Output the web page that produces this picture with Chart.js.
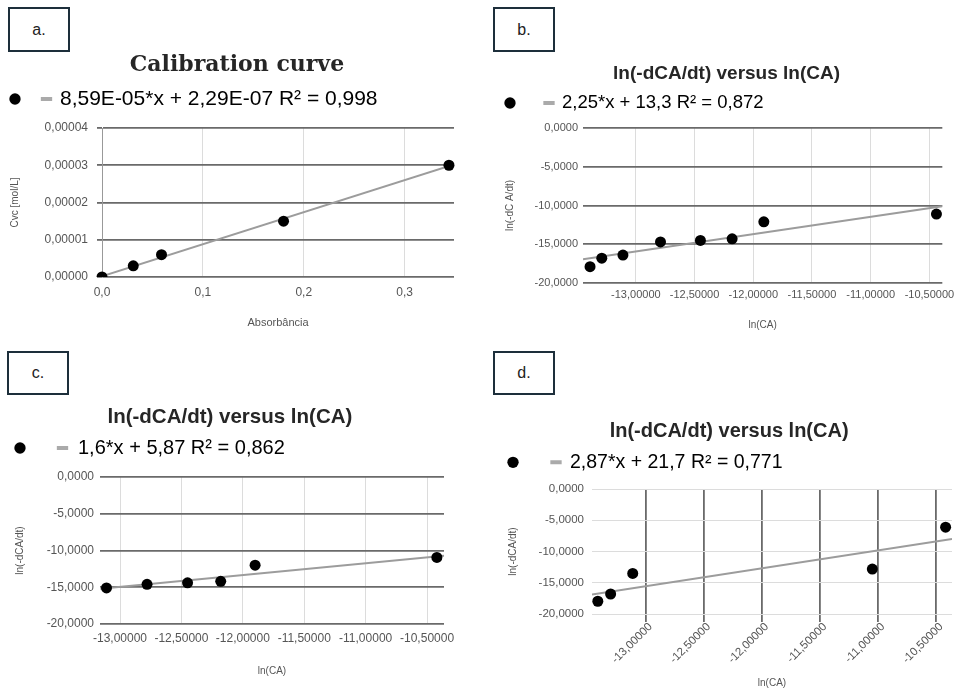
<!DOCTYPE html>
<html>
<head>
<meta charset="utf-8">
<script src="https://cdn.jsdelivr.net/npm/chart.js@4.4.1/dist/chart.umd.min.js"></script>
<style>
  body { margin: 0; background: #fff; width: 960px; height: 693px; position: relative; overflow: hidden; font-family: "Liberation Sans", Arial, sans-serif; }
  canvas { position: absolute; }
  .tag { position: absolute; box-sizing: border-box; border: 2px solid #1d2f3b; background: #fff; color: #222;
         font-size: 16px; display: flex; align-items: center; justify-content: center; z-index: 2; }
</style>
</head>
<body>
<div class="tag" style="left:8px;top:7px;width:62px;height:45px">a.</div>
<div class="tag" style="left:493px;top:7px;width:62px;height:45px">b.</div>
<div class="tag" style="left:7px;top:351px;width:62px;height:44px">c.</div>
<div class="tag" style="left:493px;top:351px;width:62px;height:44px">d.</div>

<canvas id="chartA" width="483" height="300" style="left:-3px;top:45px"></canvas>
<canvas id="chartB" width="480" height="300" style="left:480px;top:45px"></canvas>
<canvas id="chartC" width="487" height="298" style="left:-7px;top:395px"></canvas>
<canvas id="chartD" width="480" height="298" style="left:480px;top:395px"></canvas>

<script>
// a. calibration curve
const absorbancia = [0, 0.031, 0.059, 0.18, 0.344];
const cvc = [0, 0.000003, 0.000006, 0.000015, 0.00003];
const trendAx = [0, 0.349];
const trendAy = [0.0000002, 0.0000302];
const ticksAx = [0, 0.1, 0.2, 0.3];
const ticksAy = [0, 0.00001, 0.00002, 0.00003, 0.00004];
const eqA = '8,59E-05*x + 2,29E-07 R² = 0,998';

// b.
const lnCAb = [-13.39, -13.29, -13.11, -12.79, -12.45, -12.18, -11.91, -10.44];
const lnRateb = [-17.9, -16.8, -16.4, -14.7, -14.5, -14.3, -12.1, -11.1];
const trendBx = [-13.45, -10.39];
const trendBy = [-16.95, -10.1];
const eqB = '2,25*x + 13,3 R² = 0,872';

// c.
const lnCAc = [-13.11, -12.78, -12.45, -12.18, -11.9, -10.42];
const lnRatec = [-15.1, -14.6, -14.4, -14.2, -12.0, -10.95];
const trendCx = [-13.16, -10.36];
const trendCy = [-15.2, -10.7];
const eqC = '1,6*x + 5,87 R² = 0,862';

// d.
const lnCAd = [-13.41, -13.3, -13.11, -11.05, -10.42];
const lnRated = [-17.96, -16.8, -13.5, -12.8, -6.1];
const trendDx = [-13.46, -10.365];
const trendDy = [-16.9, -8.0];
const eqD = '2,87*x + 21,7 R² = 0,771';

const ticksLnX = [-13, -12.5, -12, -11.5, -11, -10.5];
const ticksLnY = [-20, -15, -10, -5, 0];
const lnTitle = 'ln(-dCA/dt) versus ln(CA)';

Chart.defaults.font.family = '"Liberation Sans", Arial, sans-serif';

const DARK = '#6a6a6a';
const LIGHT = '#dcdcdc';

function pairs(xs, ys) {
  return xs.map((x, i) => ({ x: x, y: ys[i] }));
}

function fmt(v, d) {
  return v.toFixed(d).replace('.', ',');
}

function makeChart(id, p) {
  return new Chart(document.getElementById(id), {
    type: 'scatter',
    data: {
      datasets: [
        {
          data: pairs(p.xs, p.ys), pointRadius: 5.5, pointHoverRadius: 5.5, backgroundColor: '#000', borderWidth: 0,
          clip: { left: false, top: false, right: false, bottom: 0 }
        },
        { data: pairs(p.tx, p.ty), showLine: true, pointRadius: 0, borderColor: '#9c9c9c', borderWidth: 2 }
      ]
    },
    options: {
      responsive: false,
      animation: false,
      devicePixelRatio: 1,
      layout: { padding: { left: p.pl, right: p.pr, top: 0, bottom: 0 } },
      plugins: {
        tooltip: { enabled: false },
        title: {
          display: true, text: p.title, color: '#262626', font: p.titleFont,
          padding: { top: p.tpt, bottom: p.tpb }
        },
        // empty block that only keeps a gap between the legend and the plot
        subtitle: { display: true, text: '', weight: 500, font: { size: 1, lineHeight: 1 }, padding: { top: p.gap, bottom: 0 } },
        legend: {
          align: 'start',
          labels: {
            usePointStyle: true, boxHeight: 8, boxWidth: p.bw, padding: p.lp,
            color: '#444', font: { size: p.lfs },
            generateLabels: () => [
              { text: '', pointStyle: 'circle', fillStyle: '#000', strokeStyle: '#000', lineWidth: 0, hidden: false, datasetIndex: 0 },
              { text: p.eq, pointStyle: 'line', fillStyle: '#aaa', strokeStyle: '#aaa', lineWidth: 4, hidden: false, datasetIndex: 1 }
            ]
          }
        }
      },
      scales: {
        x: {
          type: 'linear', min: p.xmin, max: p.xmax,
          afterBuildTicks: s => { s.ticks = p.xt.map(v => ({ value: v })); },
          afterFit: s => { s.height = p.xh; },
          grid: { color: p.vcol, lineWidth: p.vw, drawTicks: p.xtl > 0, tickLength: p.xtl },
          border: { display: false },
          ticks: {
            padding: p.xpad, color: '#555', font: { size: p.tfs }, labelOffset: p.xoff,
            minRotation: p.rot, maxRotation: p.rot, autoSkip: false,
            callback: v => fmt(v, p.xd)
          },
          title: { display: true, text: p.xlabel, color: '#555', font: { size: p.xtfs }, padding: { top: 0, bottom: p.xtpb } }
        },
        y: {
          type: 'linear', min: p.ymin, max: p.ymax,
          afterBuildTicks: s => { s.ticks = p.yt.map(v => ({ value: v })); },
          afterFit: s => { s.width = p.yw; },
          grid: { color: p.hcol, lineWidth: p.hw, drawTicks: p.ytl > 0, tickLength: p.ytl },
          border: { display: p.yborder, color: '#999', width: 1 },
          ticks: { padding: p.ypad, color: '#555', font: { size: p.tfs }, autoSkip: false, callback: v => fmt(v, p.yd) },
          title: { display: true, text: p.ylabel, color: '#555', font: { size: 10 }, padding: { top: p.ytp, bottom: 0 } }
        }
      }
    }
  });
}

makeChart('chartA', {
  xs: absorbancia, ys: cvc, tx: trendAx, ty: trendAy, xt: ticksAx, yt: ticksAy,
  xmin: 0, xmax: 0.349, ymin: 0, ymax: 0.00004, xd: 1, yd: 5,
  title: '   Calibration curve', titleFont: { family: '"DejaVu Serif"', size: 22, weight: 'bold' },
  tpt: 6.8, tpb: -4.7, gap: 7.5, eq: eqA, lfs: 21, bw: 6, lp: 15, pl: 0, pr: 26,
  xh: 68, xtl: 0, xpad: 8, xoff: 0, tfs: 12, rot: 0, xlabel: 'Absorbância', xtfs: 11, xtpb: 15.4,
  yw: 105, ytl: 5, ypad: 9, ylabel: 'Cvc [mol/L]', ytp: 12, yborder: true,
  vcol: LIGHT, vw: 1, hcol: DARK, hw: 1.8
});

makeChart('chartB', {
  xs: lnCAb, ys: lnRateb, tx: trendBx, ty: trendBy, xt: ticksLnX, yt: ticksLnY,
  xmin: -13.45, xmax: -10.39, ymin: -20, ymax: 0, xd: 5, yd: 4,
  title: '    ' + lnTitle, titleFont: { size: 19, weight: 'bold' },
  tpt: 17.1, tpb: -13.4, gap: 4.75, eq: eqB, lfs: 18.5, bw: 7.5, lp: 22.25, pl: 4, pr: 12,
  xh: 62, xtl: 0, xpad: 5.4, xoff: 0, tfs: 11, rot: 0, xlabel: 'ln(CA)', xtfs: 10, xtpb: 14,
  yw: 99, ytl: 0, ypad: 5, ylabel: 'ln(-dC A/dt)', ytp: 20, yborder: false,
  vcol: LIGHT, vw: 1, hcol: DARK, hw: 1.8
});

makeChart('chartC', {
  xs: lnCAc, ys: lnRatec, tx: trendCx, ty: trendCy, xt: ticksLnX, yt: ticksLnY,
  xmin: -13.163, xmax: -10.362, ymin: -20, ymax: 0, xd: 5, yd: 4,
  title: '    ' + lnTitle, titleFont: { size: 20.5, weight: 'bold' },
  tpt: 9.7, tpb: -12.8, gap: 8, eq: eqC, lfs: 20, bw: 11, lp: 21.5, pl: 0, pr: 36,
  xh: 69, xtl: 0, xpad: 7.4, xoff: 0, tfs: 12, rot: 0, xlabel: 'ln(CA)', xtfs: 10, xtpb: 16,
  yw: 107, ytl: 0, ypad: 6, ylabel: 'ln(-dCA/dt)', ytp: 21, yborder: false,
  vcol: LIGHT, vw: 1, hcol: DARK, hw: 1.8
});

makeChart('chartD', {
  xs: lnCAd, ys: lnRated, tx: trendDx, ty: trendDy, xt: ticksLnX, yt: ticksLnY,
  xmin: -13.46, xmax: -10.365, ymin: -20, ymax: 0, xd: 5, yd: 4,
  title: '    ' + lnTitle, titleFont: { size: 20, weight: 'bold' },
  tpt: 24, tpb: -15.2, gap: 6, eq: eqD, lfs: 19.5, bw: 8.5, lp: 24.75, pl: 4, pr: 8,
  xh: 79, xtl: 8, xpad: -2, xoff: 5, tfs: 11.5, rot: 45, xlabel: 'ln(CA)', xtfs: 10, xtpb: 3.7,
  yw: 108, ytl: 0, ypad: 8, ylabel: 'ln(-dCA/dt)', ytp: 23, yborder: false,
  vcol: DARK, vw: 1.8, hcol: LIGHT, hw: 1
});
</script>
</body>
</html>
